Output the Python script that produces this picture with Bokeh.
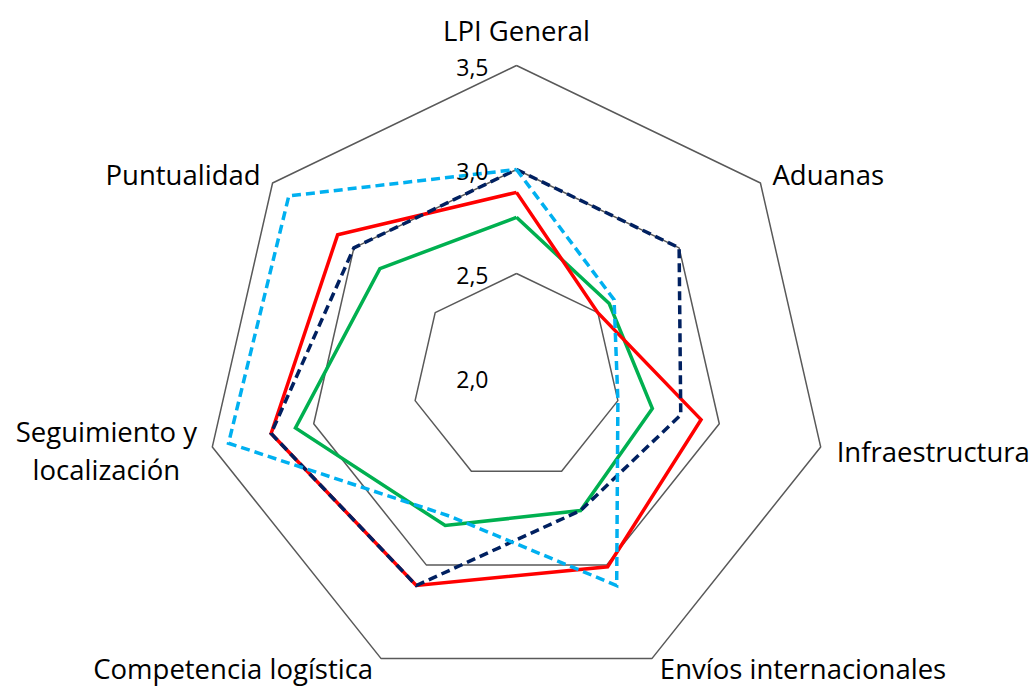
import numpy as np
from bokeh.plotting import figure
from bokeh.models import Range1d
from bokeh.core.properties import value
from bokeh.embed import file_html
from bokeh.resources import INLINE

# ---- data ----
categories = ["LPI General", "Aduanas", "Infraestructura", "Envíos internacionales",
              "Competencia logística", "Seguimiento y localización", "Puntualidad"]
series_red = [2.89, 2.50, 2.91, 3.01, 3.11, 3.21, 3.10]
series_green = [2.77, 2.57, 2.67, 2.71, 2.79, 3.09, 2.84]
series_navy = [3.00, 3.00, 2.81, 2.71, 3.11, 3.21, 3.00]
series_lightblue = [3.00, 2.60, 2.50, 3.11, 2.74, 3.42, 3.40]
grid_values = [2.5, 3.0, 3.5]
tick_values = [3.5, 3.0, 2.5, 2.0]
tick_labels = ["3,5", "3,0", "2,5", "2,0"]
r_min = 2.0

# ---- geometry ----
W, H = 1033, 688
scale = 208.0
cx, cy = 516, 377
n = len(categories)
angles = np.pi / 2 - np.arange(n) * 2 * np.pi / n


def polar(vals):
    r = np.asarray(vals, dtype=float) - r_min
    x = r * np.cos(angles)
    y = r * np.sin(angles)
    return list(np.append(x, x[0])), list(np.append(y, y[0]))


p = figure(width=W, height=H, output_backend="svg", toolbar_location=None,
           x_range=Range1d(-cx / scale, (W - cx) / scale),
           y_range=Range1d(-(H - cy) / scale, cy / scale),
           min_border=0, min_border_left=0, min_border_right=0,
           min_border_top=0, min_border_bottom=0)
p.axis.visible = False
p.grid.visible = False
p.outline_line_color = None
p.background_fill_color = "white"
p.border_fill_color = "white"

FONT = value("Open Sans")

# grid rings
for g in grid_values:
    gx, gy = polar([g] * n)
    p.line(gx, gy, line_color="#595959", line_width=1.5)

# series
gx, gy = polar(series_green)
p.line(gx, gy, line_color="#00B050", line_width=3.5, line_join="miter")
rx, ry = polar(series_red)
p.line(rx, ry, line_color="#FF0000", line_width=3.5, line_join="miter")
nx, ny = polar(series_navy)
p.line(nx, ny, line_color="#002060", line_width=3.5, line_dash="9 5", line_join="miter")
lx, ly = polar(series_lightblue)
p.line(lx, ly, line_color="#00B0F0", line_width=3.5, line_dash="9 5", line_join="miter")

# tick labels
p.text(x=[0] * len(tick_values), y=[v - r_min for v in tick_values], text=tick_labels,
       text_font=FONT, text_font_size="23px", text_color="#000000",
       text_align="right", text_baseline="alphabetic", x_offset=-28, y_offset=2)

# category labels
R = 1.5
ox, oy = R * np.cos(angles), R * np.sin(angles)
label_specs = [
    # (index, text, align, dx, dy)
    (0, "LPI General", "center", 0, -35),
    (1, "Aduanas", "left", 12, -8),
    (2, "Infraestructura", "left", 16, 5),
    (3, "Envíos internacionales", "left", 8, 10),
    (4, "Competencia logística", "right", -8, 10),
    (6, "Puntualidad", "right", -12, -8),
]
for idx, txt, al, dx, dy in label_specs:
    p.text(x=[ox[idx]], y=[oy[idx]], text=[txt], text_font=FONT, text_font_size="27.5px",
           text_color="#000000", text_align=al, text_baseline="alphabetic",
           x_offset=dx, y_offset=dy)
seg_lines = ["Seguimiento y", "localización"]
for j, t in enumerate(seg_lines):
    p.text(x=[ox[5]], y=[oy[5]], text=[t], text_font=FONT, text_font_size="27.5px",
           text_color="#000000", text_align="center", text_baseline="alphabetic",
           x_offset=-106, y_offset=-15 + 38 * j)

open("out.html", "w").write(file_html(p, INLINE))
